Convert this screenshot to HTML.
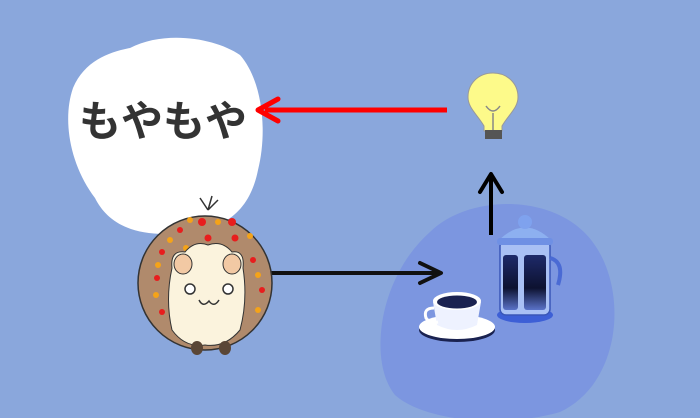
<!DOCTYPE html>
<html><head><meta charset="utf-8"><style>
html,body{margin:0;padding:0}
body{width:700px;height:418px;background:#8aa7dc;overflow:hidden;position:relative;font-family:"Liberation Sans","Noto Sans CJK JP",sans-serif}
</style></head><body>
<svg width="700" height="418" style="position:absolute;left:0;top:0">
<defs>
<linearGradient id="gl" x1="0" y1="0" x2="0" y2="1"><stop offset="0" stop-color="#1e2a6a"/><stop offset="0.6" stop-color="#0d1230"/><stop offset="1" stop-color="#5a72c8"/></linearGradient>
</defs>
<path d="M430 232 C470 192 565 192 598 250 C628 300 618 385 560 412 C505 428 425 422 395 395 C368 362 378 278 430 232Z" fill="#7c96e0"/>
<path d="M130 48 C165 30 215 38 240 55 C262 80 268 130 258 170 C250 210 225 235 165 234 C125 234 105 218 95 198 C70 165 62 120 73 88 C85 60 110 52 130 48Z" fill="#fff"/>
<text x="163" y="136" text-anchor="middle" font-size="42" font-weight="bold" fill="#333" font-family="Liberation Sans,Noto Sans CJK JP,sans-serif">もやもや</text>
<line x1="447" y1="110" x2="265" y2="110" stroke="#f00" stroke-width="5"/>
<path d="M278 99 L258 110 L278 121" fill="none" stroke="#f00" stroke-width="5" stroke-linejoin="round" stroke-linecap="round"/>
<path d="M493 73 C478 73 468 84 468 97 C468 108 477 114 484 126 L484 131 L502 131 L502 126 C509 114 518 108 518 97 C518 84 508 73 493 73Z" fill="#fdfa8a" stroke="#999" stroke-width="1"/>
<path d="M493 130 L493 113 M486 106 Q493 116 500 106" stroke="#888" stroke-width="1.5" fill="none"/>
<rect x="485" y="130" width="17" height="9" fill="#555"/>
<line x1="491" y1="235" x2="491" y2="175" stroke="#000" stroke-width="4"/>
<path d="M480 192 L491 174 L502 192" fill="none" stroke="#000" stroke-width="4" stroke-linecap="round" stroke-linejoin="round"/>
<line x1="270" y1="273" x2="440" y2="273" stroke="#111" stroke-width="4"/>
<path d="M420 263 L441 273 L420 283" fill="none" stroke="#111" stroke-width="4" stroke-linecap="round" stroke-linejoin="round"/>
<ellipse cx="525" cy="315" rx="28" ry="8" fill="#3d5fd6"/>
<rect x="500" y="240" width="50" height="75" rx="6" fill="#a9c0f4" stroke="#3a57b8" stroke-width="1.5"/>
<rect x="503" y="255" width="15" height="55" rx="3" fill="url(#gl)"/>
<rect x="524" y="255" width="22" height="55" rx="3" fill="url(#gl)"/>
<path d="M550 258 Q565 262 558 285" stroke="#4a6ad4" stroke-width="4" fill="none"/>
<path d="M499 240 Q525 215 551 240 Z" fill="#8db0f0"/>
<rect x="497" y="238" width="56" height="7" rx="3" fill="#6f90e4"/>
<circle cx="525" cy="222" r="7" fill="#7fa2ee"/>
<ellipse cx="457" cy="330" rx="38" ry="12" fill="#1a2250"/>
<ellipse cx="457" cy="327" rx="38" ry="12" fill="#fff"/>
<path d="M433 302 L437 325 Q457 335 477 325 L481 302 Z" fill="#eef2ff"/>
<path d="M434 308 Q423 308 426 318 Q430 324 438 322" stroke="#fff" stroke-width="3" fill="none"/>
<ellipse cx="457" cy="301" rx="24" ry="9" fill="#fff"/>
<ellipse cx="457" cy="302" rx="20" ry="6.5" fill="#1a2250"/>
<circle cx="205" cy="283" r="67" fill="#b08a6c" stroke="#333" stroke-width="1.5"/>
<path d="M208 210 L200 198 M208 210 L212 196 M208 210 L218 200" stroke="#333" stroke-width="1.5"/>
<g fill="#e81d1d">
<circle cx="202" cy="222" r="4"/><circle cx="232" cy="222" r="4"/><circle cx="180" cy="230" r="3"/><circle cx="208" cy="238" r="3.5"/><circle cx="235" cy="238" r="3.5"/><circle cx="162" cy="252" r="3"/><circle cx="253" cy="260" r="3"/><circle cx="157" cy="278" r="3"/><circle cx="262" cy="290" r="3"/><circle cx="162" cy="312" r="3"/><circle cx="202" cy="252" r="3"/>
</g>
<g fill="#f4a319">
<circle cx="190" cy="220" r="3"/><circle cx="218" cy="222" r="3"/><circle cx="170" cy="240" r="3"/><circle cx="250" cy="236" r="3"/><circle cx="224" cy="248" r="3"/><circle cx="158" cy="265" r="3"/><circle cx="258" cy="275" r="3"/><circle cx="156" cy="295" r="3"/><circle cx="258" cy="310" r="3"/><circle cx="186" cy="248" r="3"/>
</g>
<path d="M172 268 Q170 250 185 252 Q195 240 208 245 Q222 240 232 252 Q245 250 243 268 Q248 300 240 330 Q225 348 205 345 Q185 348 172 330 Q165 300 172 268Z" fill="#fbf3dd" stroke="#333" stroke-width="1"/>
<ellipse cx="183" cy="264" rx="9" ry="10" fill="#f2c9a4" stroke="#333"/>
<ellipse cx="232" cy="264" rx="9" ry="10" fill="#f2c9a4" stroke="#333"/>
<circle cx="190" cy="289" r="5" fill="#fff" stroke="#333" stroke-width="1.5"/>
<circle cx="228" cy="289" r="5" fill="#fff" stroke="#333" stroke-width="1.5"/>
<path d="M199 300 Q203 308 209 301 Q214 308 219 300" stroke="#333" stroke-width="1.5" fill="none"/>
<ellipse cx="197" cy="348" rx="6" ry="7" fill="#5a4636"/>
<ellipse cx="225" cy="348" rx="6" ry="7" fill="#5a4636"/>
</svg>
</body></html>
